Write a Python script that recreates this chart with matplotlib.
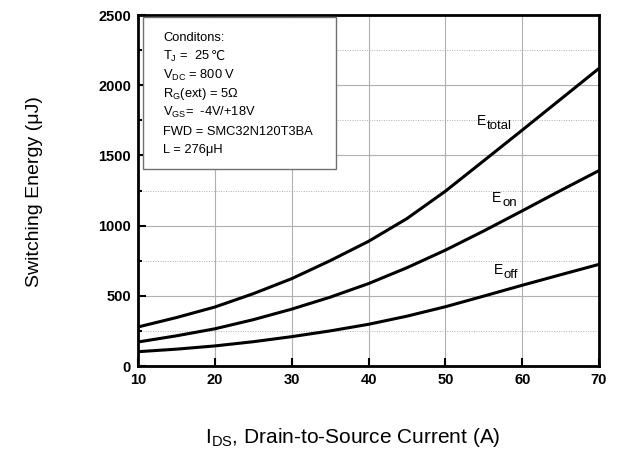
import matplotlib
matplotlib.use("Agg")
import matplotlib.pyplot as plt
from matplotlib.ticker import MultipleLocator

plt.rcParams['font.family'] = ['Liberation Sans', 'DejaVu Sans']

# drain current (A)
ids = [10, 15, 20, 25, 30, 35, 40, 45, 50, 55, 60, 65, 70]
# switching energy (uJ)
e_total = [278, 345, 420, 515, 622, 750, 888, 1050, 1245, 1462, 1680, 1900, 2120]
e_on = [171, 215, 265, 330, 405, 490, 587, 700, 825, 962, 1105, 1250, 1392]
e_off = [102, 120, 143, 173, 209, 250, 297, 355, 422, 498, 575, 650, 724]

conditions = ["Conditons:",
              r"T$_\mathregular{J}$ =  25 ",
              r"V$_\mathregular{DC}$ = 800 V",
              r"R$_\mathregular{G}$(ext) = 5Ω",
              r"V$_\mathregular{GS}$=  -4V/+18V",
              "FWD = SMC32N120T3BA",
              "L = 276μH"]

fig = plt.figure(figsize=(6.18, 4.55), dpi=100)
ax = fig.add_axes([0.2233, 0.1956, 0.746, 0.7714])

for y in (e_total, e_on, e_off):
    ax.plot(ids, y, color='black', lw=2.2, solid_capstyle='butt')

ax.set_xlim(10, 70)
ax.set_ylim(0, 2500)
ax.xaxis.set_major_locator(MultipleLocator(10))
ax.yaxis.set_major_locator(MultipleLocator(500))
ax.yaxis.set_minor_locator(MultipleLocator(250))

ax.grid(which='major', color='#b0b0b0', lw=0.8)
ax.grid(which='minor', axis='y', color='#b0b0b0', lw=0.7, ls=(0, (1, 1.5)))
ax.set_axisbelow(True)

for s in ax.spines.values():
    s.set_linewidth(2)
ax.tick_params(which='both', direction='in', width=1.5, labelsize=10.5, pad=5)
ax.tick_params(which='major', length=6)
ax.tick_params(which='minor', length=3)
for lab in ax.get_xticklabels() + ax.get_yticklabels():
    lab.set_fontweight('bold')

ax.set_ylabel("Switching Energy (μJ)", fontsize=14, va='center')
ax.yaxis.set_label_coords(-0.225, 0.496)
ax.set_xlabel(r"I$_\mathregular{DS}$, Drain-to-Source Current (A)", fontsize=15, va='center')
ax.xaxis.set_label_coords(0.466, -0.205)

# curve labels: E with a large subscript
for xl, yl, sub in [(54.1, 1717, "total"), (56.1, 1168, "on"), (56.3, 655, "off")]:
    t = ax.text(xl, yl, "E", fontsize=10, va='baseline')
    ax.annotate(sub, xy=(1, 0), xycoords=t, xytext=(0.5, -1),
                textcoords='offset points', fontsize=9.5, va='baseline')

box = plt.Rectangle((0.011, 0.561), 0.419, 0.433, transform=ax.transAxes,
                    facecolor='white', edgecolor='#707070', lw=1, zorder=3)
ax.add_patch(box)
for i, line in enumerate(conditions):
    t = ax.text(0.054, 0.934 - i * 0.0532, line, transform=ax.transAxes,
                fontsize=9.3, va='center', zorder=4)
    if i == 1:
        ax.annotate("℃", xy=(1, 0.5), xycoords=t, va='center', fontsize=9,
                    family='DejaVu Sans', zorder=4)

fig.savefig("out.png", dpi=100)
